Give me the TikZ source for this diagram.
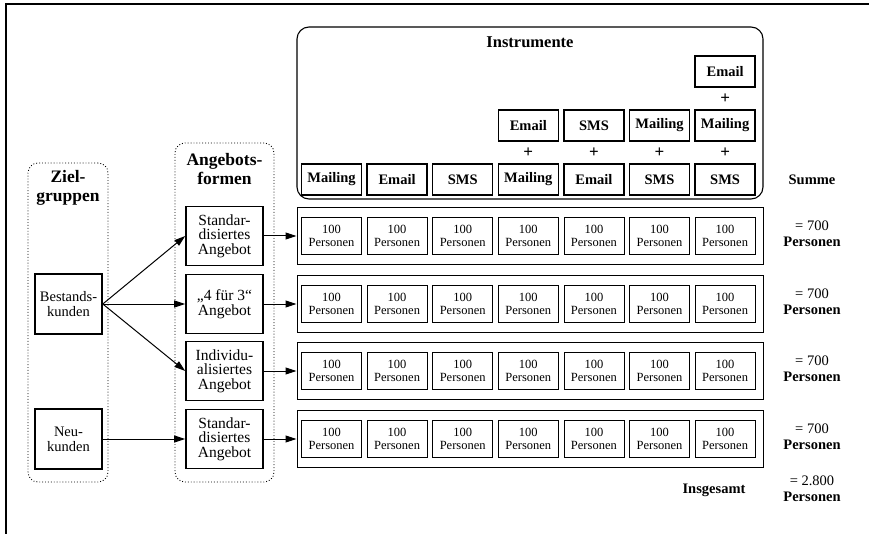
\documentclass[tikz,border=0pt]{standalone}
\usepackage{fontspec}
\setmainfont{Liberation Serif}
\usetikzlibrary{arrows.meta}
\begin{document}
\begin{tikzpicture}[x=1pt,y=-1pt,
  instr/.style={draw,line width=1.5pt,minimum width=60pt,minimum height=31pt,inner sep=0pt,font=\fontsize{14.5}{16}\selectfont\bfseries},
  pers/.style={draw,line width=0.8pt,minimum width=60pt,minimum height=37pt,inner sep=0pt,align=center,font=\fontsize{12.5}{13}\selectfont},
  rowbox/.style={draw,line width=0.9pt,minimum width=466pt,minimum height=57pt,inner sep=0pt},
  offer/.style={draw,line width=1.6pt,minimum width=77pt,minimum height=59pt,inner sep=0pt,align=center,font=\fontsize{15.5}{14.5}\selectfont},
  grpbox/.style={draw,line width=1.6pt,minimum width=67pt,minimum height=60pt,inner sep=0pt,align=center,font=\fontsize{14.5}{15}\selectfont},
  grp/.style={draw,dotted,line width=0.9pt,rounded corners=10pt,inner sep=0pt},
  head/.style={align=center,font=\fontsize{17.5}{19}\selectfont\bfseries},
  sumtxt/.style={align=center,font=\fontsize{14.5}{16}\selectfont},
  arr/.style={-{Triangle[length=11pt,width=7pt]},line width=1pt},
  plus/.style={font=\fontsize{17}{17}\selectfont\bfseries,inner sep=0pt}
]
\useasboundingbox (0,0) rectangle (869,534);
% frame
\draw[line width=1.2pt] (869,4) -- (6,4) -- (6,534);

% group boxes
\node[grp,minimum width=80pt,minimum height=319pt] (zg) at (68,322.5) {};
\node[grp,minimum width=99pt,minimum height=339pt] (ag) at (224.5,312.5) {};
\node[head] (zgt) at (68,188) {Ziel-\\gruppen};
\node[head] (agt) at (224.5,169) {Angebots-\\formen};

% instruments box
\node[draw,line width=1.1pt,rounded corners=12pt,minimum width=466pt,minimum height=172pt,inner sep=0pt] (ib) at (530,113) {};
\node[font=\fontsize{16.5}{18}\selectfont\bfseries] (it) at (530,42) {Instrumente};

% bottom instrument row
\foreach \i/\t in {0/Mailing,1/Email,2/SMS,3/Mailing,4/Email,5/SMS,6/SMS}{
  \node[instr] (ia\i) at ({331.5+65.6*\i},179.5) {\t};
}
\foreach \i/\t in {3/Email,4/SMS,5/Mailing,6/Mailing}{
  \node[instr] (ib\i) at ({331.5+65.6*\i},125.5) {\t};
  \node[plus] (pa\i) at ({331.5+65.6*\i},152.5) {+};
}
\node[instr] (ic6) at ({331.5+65.6*6},71.5) {Email};
\node[plus] (pb6) at ({331.5+65.6*6},98.5) {+};
\node[font=\fontsize{14.5}{16}\selectfont\bfseries] (summe) at (812,180) {Summe};

% rows
\foreach \r/\y in {1/236,2/304,3/371,4/439}{
  \node[rowbox] (row\r) at (530,\y) {};
  \foreach \i in {0,...,6}{
    \node[pers] (p\r\i) at ({331.5+65.6*\i},\y) {100\\Personen};
  }
  \node[sumtxt] (s\r) at (812,\y-2) {= 700\\\textbf{Personen}};
}
\node[font=\fontsize{14.5}{16}\selectfont\bfseries] (insg) at (714,490) {Insgesamt};
\node[sumtxt] (stot) at (812,489) {= 2.800\\\textbf{Personen}};

% offers
\node[offer] (o1) at (224.5,236) {Standar-\\disiertes\\Angebot};
\node[offer] (o2) at (224.5,304) {„4 für 3“\\Angebot};
\node[offer] (o3) at (224.5,371) {Individu-\\alisiertes\\Angebot};
\node[offer] (o4) at (224.5,439) {Standar-\\disiertes\\Angebot};

% target groups
\node[grpbox] (b) at (68.5,304) {Bestands-\\kunden};
\node[grpbox] (n) at (68.5,439) {Neu-\\kunden};

% arrows
\draw[arr] (b.east) -- (o1.west);
\draw[arr] (b.east) -- (o2.west);
\draw[arr] (b.east) -- (o3.west);
\draw[arr] (n.east) -- (o4.west);
\foreach \r in {1,2,3,4}{
  \draw[arr] (o\r.east) -- (row\r.west);
}
\end{tikzpicture}
\end{document}
